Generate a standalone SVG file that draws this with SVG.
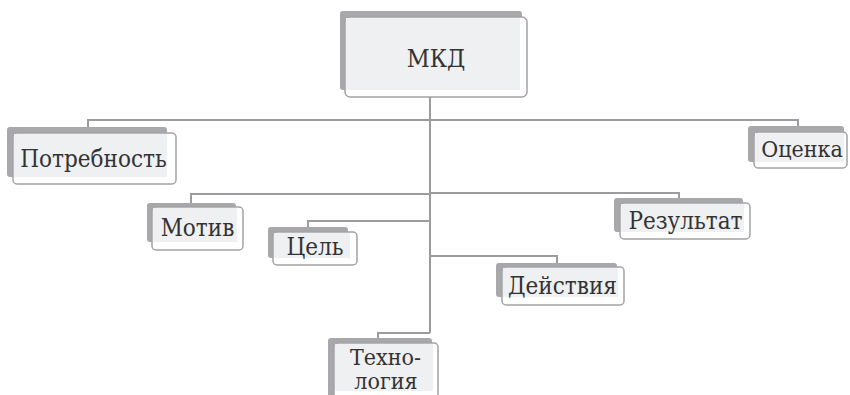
<svg xmlns="http://www.w3.org/2000/svg" width="850" height="395" viewBox="0 0 850 395">
<style>
.bk{fill:#a8a8aa}
.fr{fill:#ffffff;stroke:#a3a3a5;stroke-width:1.5}
.in{fill:#eff0f2}
.t{font-family:"DejaVu Serif Condensed","DejaVu Serif",serif;font-stretch:condensed;font-size:24px;fill:#333333;text-anchor:middle}
.c{fill:none;stroke:#9c9c9e;stroke-width:2}
</style>
<rect width="850" height="395" fill="#ffffff"/>
<g id="connectors">
<path class="c" d="M430,97 V333"/>
<path class="c" d="M430,120 H88 V127"/>
<path class="c" d="M430,120 H798 V126"/>
<path class="c" d="M430,194 H191 V203"/>
<path class="c" d="M430,193 H679 V198"/>
<path class="c" d="M430,221 H308 V227"/>
<path class="c" d="M430,256 H557 V263"/>
<path class="c" d="M430,333 H378 V338"/>
</g>
<g id="node-mkd">
<rect class="bk" x="340" y="11" width="182" height="79" rx="3"/>
<rect class="fr" x="345" y="17" width="182" height="80" rx="5"/>
<rect class="in" x="346" y="18" width="174" height="72"/>
<text class="t" x="436" y="67" style="font-size:25px">МКД</text>
</g>
<g id="node-potrebnost">
<rect class="bk" x="7" y="127" width="160" height="50" rx="3"/>
<rect class="fr" x="13" y="133" width="163" height="51" rx="4"/>
<rect class="in" x="14" y="134" width="153" height="43"/>
<text class="t" x="93.5" y="167">Потребность</text>
</g>
<g id="node-ocenka">
<rect class="bk" x="748" y="126" width="96" height="36" rx="3"/>
<rect class="fr" x="754" y="132" width="93" height="36" rx="4"/>
<rect class="in" x="755" y="133" width="89" height="29"/>
<text class="t" x="802" y="157" style="font-size:23px">Оценка</text>
</g>
<g id="node-motiv">
<rect class="bk" x="147" y="203" width="89" height="39" rx="3"/>
<rect class="fr" x="152" y="207" width="91" height="43" rx="4"/>
<rect class="in" x="153" y="208" width="84" height="34"/>
<text class="t" x="197.5" y="236">Мотив</text>
</g>
<g id="node-cel">
<rect class="bk" x="268" y="227" width="80" height="31" rx="3"/>
<rect class="fr" x="273" y="232" width="84" height="33" rx="4"/>
<rect class="in" x="274" y="233" width="76" height="25"/>
<text class="t" x="315" y="255">Цель</text>
</g>
<g id="node-rezultat">
<rect class="bk" x="614" y="198" width="129" height="34" rx="3"/>
<rect class="fr" x="620" y="203" width="130" height="36" rx="4"/>
<rect class="in" x="621" y="204" width="123" height="28"/>
<text class="t" x="685.5" y="229">Результат</text>
</g>
<g id="node-deystviya">
<rect class="bk" x="496" y="263" width="121" height="34" rx="3"/>
<rect class="fr" x="502" y="267" width="122" height="38" rx="4"/>
<rect class="in" x="503" y="268" width="115" height="29"/>
<text class="t" x="562.5" y="294">Действия</text>
</g>
<g id="node-tehnologiya">
<rect class="bk" x="328" y="338" width="104" height="60" rx="3"/>
<rect class="fr" x="334" y="343" width="104" height="60" rx="4"/>
<rect class="in" x="335" y="344" width="98" height="47"/>
<text class="t" x="385.5" y="365" style="font-size:23px">Техно-</text>
<text class="t" x="386" y="389" style="font-size:23px">логия</text>
</g>
</svg>
